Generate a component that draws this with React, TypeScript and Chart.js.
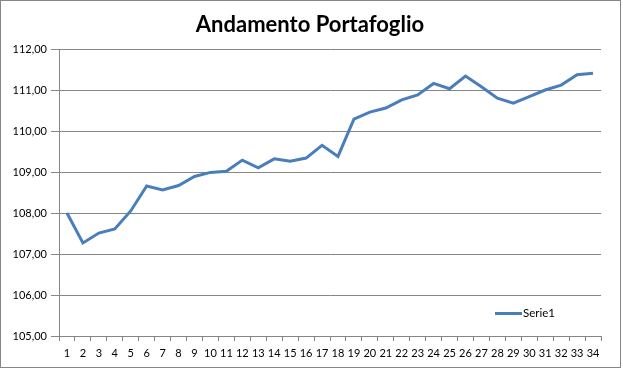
import React, { useEffect, useRef } from "react";
import { Chart, registerables } from "chart.js";

Chart.register(...registerables);

const categories: string[] = Array.from({ length: 34 }, (_, i) => String(i + 1));
const serie1: number[] = [
  108.0, 107.27, 107.51, 107.61, 108.05, 108.66, 108.56, 108.67, 108.89, 108.99,
  109.02, 109.29, 109.1, 109.32, 109.26, 109.34, 109.65, 109.38, 110.29, 110.46,
  110.56, 110.76, 110.88, 111.16, 111.03, 111.34, 111.08, 110.8, 110.68, 110.84,
  111.0, 111.12, 111.37, 111.41,
];
const seriesLabel = "Serie1";
const titleText = "Andamento Portafoglio";
const yMin = 105;
const yMax = 112;

const FONT = "Lato, 'DejaVu Sans', sans-serif";
const GRID = "#868686";
const LINE = "#4a7ebb";

const framePlugin = {
  id: "frame",
  afterDraw(chart: any) {
    const ctx = chart.ctx;
    ctx.save();
    ctx.strokeStyle = GRID;
    ctx.lineWidth = 1;
    ctx.strokeRect(0.5, 0.5, 620, 367);
    // title centred over the whole chart
    ctx.fillStyle = "#000";
    ctx.font = `bold 22px ${FONT}`;
    ctx.textAlign = "center";
    ctx.textBaseline = "middle";
    ctx.fillText(chart.options.plugins.customTitle.text, 310, 25);
    // legend inside plot area
    const ca = chart.chartArea;
    const ds = chart.data.datasets[0];
    const y = ca.bottom - 22.5;
    const x0 = ca.right - 106;
    ctx.strokeStyle = ds.borderColor;
    ctx.lineWidth = 3;
    ctx.beginPath();
    ctx.moveTo(x0, y);
    ctx.lineTo(x0 + 27, y);
    ctx.stroke();
    ctx.fillStyle = "#000";
    ctx.font = `11.5px ${FONT}`;
    ctx.textBaseline = "middle";
    ctx.textAlign = "left";
    ctx.fillText(ds.label, x0 + 28, y);
    ctx.restore();
  },
};

export default function App() {
  const ref = useRef<HTMLCanvasElement>(null);
  useEffect(() => {
    if (!ref.current) return;
    const chart = new Chart(ref.current, {
      type: "line",
      data: {
        labels: categories,
        datasets: [
          {
            label: seriesLabel,
            data: serie1,
            borderColor: LINE,
            backgroundColor: LINE,
            borderWidth: 3,
            pointRadius: 0,
            tension: 0,
          },
        ],
      },
      options: {
        responsive: false,
        animation: false,
        layout: { padding: { left: 0, right: 22, top: 49, bottom: 0 } },
        plugins: {
          legend: { display: false },
          tooltip: { enabled: false },
          title: { display: false },
          customTitle: { text: titleText },
        } as any,
        scales: {
          x: {
            type: "category",
            offset: true,
            grid: {
              display: true,
              offset: true,
              drawOnChartArea: false,
              drawTicks: true,
              tickLength: 5,
              color: GRID,
            },
            border: { display: true, color: GRID },
            ticks: {
              autoSkip: false,
              maxRotation: 0,
              minRotation: 0,
              color: "#000",
              padding: 6,
              font: { family: FONT, size: 11 },
            },
            afterFit(s: any) {
              s.height = 34;
            },
          },
          y: {
            min: yMin,
            max: yMax,
            grid: { color: GRID, tickLength: 8, drawTicks: true },
            border: { display: true, color: GRID },
            ticks: {
              stepSize: 1,
              color: "#000",
              padding: 4,
              font: { family: FONT, size: 11 },
              callback: (v: any) => Number(v).toFixed(2).replace(".", ","),
            },
            afterFit(s: any) {
              s.width = 59;
            },
          },
        },
      },
      plugins: [framePlugin],
    });
    return () => chart.destroy();
  }, []);
  return (
    <div style={{ position: "absolute", left: 0, top: 0, width: 623, height: 370, background: "#fff" }}>
      <canvas ref={ref} width={623} height={370} style={{ display: "block" }} />
    </div>
  );
}
